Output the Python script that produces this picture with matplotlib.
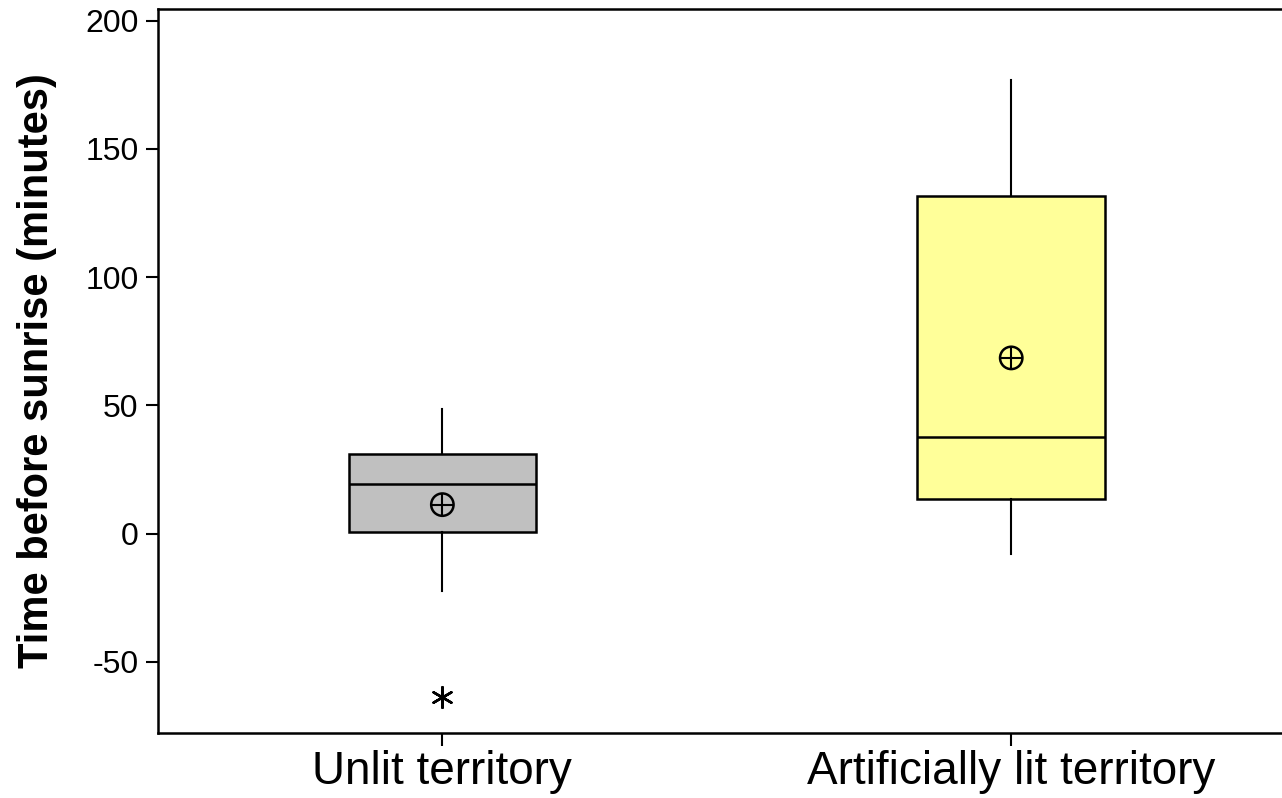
import matplotlib
matplotlib.use('Agg')
from matplotlib import pyplot as plt

# 値は図から読み取った推定値
groups = ['Unlit territory', 'Artificially lit territory']
q1 = [0.5, 13.5]
median = [19.5, 37.5]
q3 = [31.0, 131.5]
whisker_low = [-22.5, -8.0]
whisker_high = [48.5, 177.0]
means = [11.3, 68.5]
outliers = [[-63.5], []]
box_colors = ['#c0c0c0', '#ffff99']

plt.rcParams['font.family'] = ['Liberation Sans', 'DejaVu Sans']
plt.rcParams['axes.unicode_minus'] = False

fig = plt.figure(figsize=(12.82, 7.98), dpi=100)
ax = fig.add_axes([0.1232, 0.0815, 0.8768, 0.9072])

stats = []
for i, name in enumerate(groups):
    stats.append({
        'label': name,
        'q1': q1[i], 'med': median[i], 'q3': q3[i],
        'whislo': whisker_low[i], 'whishi': whisker_high[i],
        'mean': means[i], 'fliers': outliers[i],
    })

positions = [1, 2]
bp = ax.bxp(stats, positions=positions, widths=0.33, patch_artist=True,
            showcaps=False, showmeans=False, showfliers=False,
            boxprops=dict(linewidth=1.8, edgecolor='black'),
            medianprops=dict(color='black', linewidth=1.8),
            whiskerprops=dict(color='black', linewidth=1.5))
for patch, c in zip(bp['boxes'], box_colors):
    patch.set_facecolor(c)

# 平均値（丸に十字）
ax.scatter(positions, means, s=260, facecolors='none', edgecolors='black', linewidths=1.8, zorder=5)
ax.scatter(positions, means, s=260, marker='+', color='black', linewidths=1.5, zorder=5)

# 外れ値
for p, vals in zip(positions, outliers):
    if vals:
        ax.scatter([p] * len(vals), vals, s=220, marker=(6, 2, 0), color='black', linewidths=1.8, zorder=5)

ax.set_xlim(0.5, 2.476)
ax.set_ylim(-77.7, 204.5)
ax.set_yticks([-50, 0, 50, 100, 150, 200])
ax.set_xticks(positions)
ax.set_xticklabels(groups, fontsize=33)
ax.tick_params(axis='y', labelsize=23, length=9, width=1.5, direction='out', pad=5)
ax.tick_params(axis='x', length=9, width=1.5, direction='out', pad=3)
ax.spines['right'].set_visible(False)
for s in ['left', 'top', 'bottom']:
    ax.spines[s].set_linewidth(1.8)

ax.set_ylabel('Time before sunrise (minutes)', fontsize=30, fontweight='heavy', labelpad=20)

fig.savefig('out.png', dpi=100)
